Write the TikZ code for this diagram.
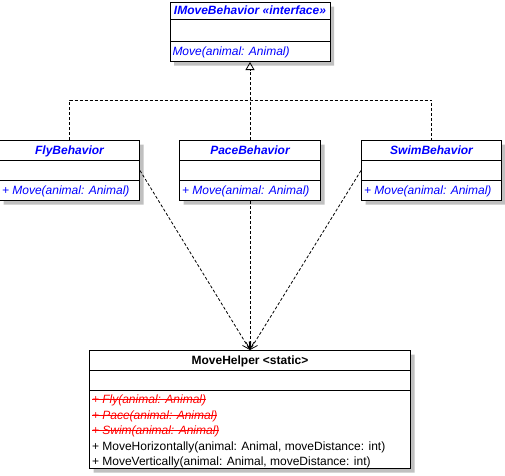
\documentclass[tikz,border=0pt]{standalone}
\usepackage{fontspec}
\setmainfont{Liberation Sans}
\usepackage{tikz}
\usetikzlibrary{arrows.meta,positioning,shapes.multipart,shadows}
\definecolor{umlBlue}{RGB}{0,0,255}
\definecolor{umlRed}{RGB}{255,0,0}
\definecolor{umlShadow}{RGB}{192,192,192}
\newcommand{\rowstrut}{\rule[-5.5pt]{0pt}{19pt}}
\newcommand{\linestrut}{\rule[-2.6pt]{0pt}{15.4pt}}
\newcommand{\struck}[1]{{\color{umlRed}\itshape\setbox0\hbox{#1}%
  \rlap{\raisebox{3.6pt}{\rule{\wd0}{0.9pt}}}\box0}}
\renewcommand{\arraystretch}{0.5}

\begin{document}
\begin{tikzpicture}[x=1pt, y=1pt, node distance=78pt and 39pt,
  every node/.style={font=\fontsize{12}{14}\selectfont},
  umlclass/.style={draw, line width=1pt, fill=white, rectangle split, rectangle split parts=3,
    rectangle split part align={center,left,left}, inner xsep=2.5pt, inner ysep=0pt,
    drop shadow={shadow xshift=4pt, shadow yshift=-4pt, fill=umlShadow, opacity=1}},
  behavior/.style={umlclass, text=umlBlue},
  realize/.style={line width=0.8pt, dash pattern=on 3pt off 2pt},
  depend/.style={line width=0.8pt, dash pattern=on 3pt off 2pt, -{Straight Barb[length=7pt, width=8pt]}}]
\useasboundingbox (0,0) rectangle (505,-475);

\node[behavior, minimum width=160pt, anchor=north] (iface) at (250,-2)
  {\rule[-4.5pt]{0pt}{16pt}\bfseries\itshape IMoveBehavior «interface»
   \nodepart{two}\rule{0pt}{21pt}
   \nodepart{three}\rowstrut\itshape Move(animal: Animal)};
\node[behavior, minimum width=141pt, below=78pt of iface] (pace)
  {\rowstrut\bfseries\itshape PaceBehavior
   \nodepart{two}\rowstrut
   \nodepart{three}\rowstrut\itshape + Move(animal: Animal)};
\node[behavior, minimum width=140pt, left=39pt of pace] (fly)
  {\rowstrut\bfseries\itshape FlyBehavior
   \nodepart{two}\rowstrut
   \nodepart{three}\rowstrut\itshape + Move(animal: Animal)};
\node[behavior, minimum width=140pt, right=40pt of pace] (swim)
  {\rowstrut\bfseries\itshape SwimBehavior
   \nodepart{two}\rowstrut
   \nodepart{three}\rowstrut\itshape + Move(animal: Animal)};
\node[umlclass, minimum width=321pt, below=149pt of pace] (helper)
  {\rowstrut\bfseries MoveHelper <static>
   \nodepart{two}\rowstrut
   \nodepart{three}\begin{tabular}{@{}l@{}}
     \linestrut\struck{+ Fly(animal: Animal)}\\
     \linestrut\struck{+ Pace(animal: Animal)}\\
     \linestrut\struck{+ Swim(animal: Animal)}\\
     \linestrut+ MoveHorizontally(animal: Animal, moveDistance: int)\\
     \linestrut+ MoveVertically(animal: Animal, moveDistance: int)
   \end{tabular}};

% realization of the interface
\coordinate (bus) at ([yshift=-38pt]iface.south);
\draw[realize] (fly.north) |- (bus) -| (swim.north);
\draw[realize, -{Triangle[open, length=8pt, width=9pt]}] (pace.north) -- (iface.south);

% dependencies on the helper
\draw[depend] (fly.east) -- (helper.north);
\draw[depend] (pace.south) -- (helper.north);
\draw[depend] (swim.west) -- (helper.north);
\end{tikzpicture}
\end{document}
